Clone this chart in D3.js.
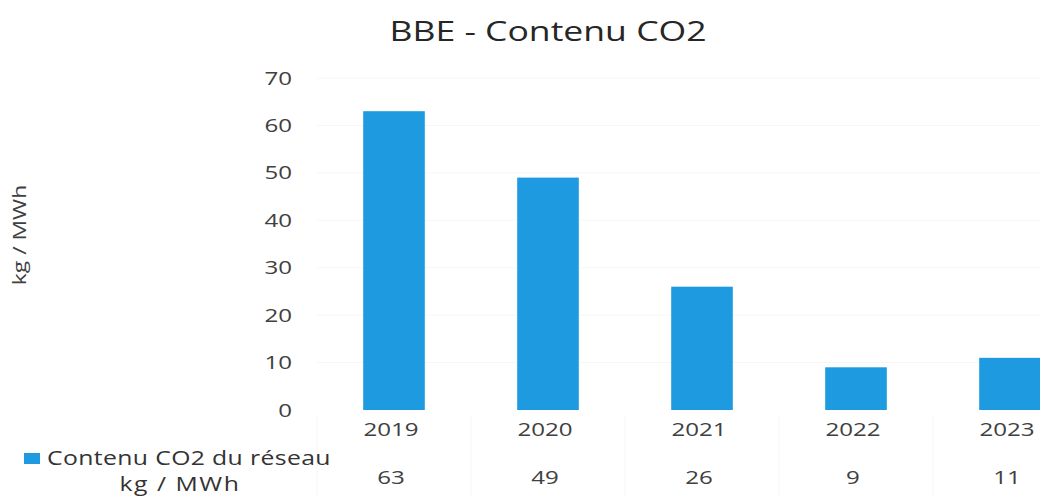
<!DOCTYPE html>
<html>
<head>
<meta charset="utf-8">
<script src="https://cdn.jsdelivr.net/npm/d3@7"></script>
<style>
  html, body { margin: 0; padding: 0; background: #ffffff; }
  svg { display: block; font-family: "Open Sans", "Liberation Sans", sans-serif; }
</style>
</head>
<body>
<svg id="chart" width="1040" height="497"></svg>
<script>
// Annual CO2 content of the network (kg / MWh)
const years = ["2019", "2020", "2021", "2022", "2023"];
const co2Values = [63, 49, 26, 9, 11];
const yTicks = [0, 10, 20, 30, 40, 50, 60, 70];
const chartTitle = "BBE - Contenu CO2";
const yAxisTitle = "kg / MWh";
const seriesName = ["Contenu CO2 du réseau", "kg / MWh"];

const svg = d3.select("#chart");
const W = 1040, H = 497;

// Plot area: the category band runs past the right edge of the page
const plot = { left: 317, right: 1087, top: 78, bottom: 410 };

const x = d3.scaleBand()
  .domain(years)
  .range([plot.left, plot.right])
  .paddingInner(0.6)
  .paddingOuter(0.3);

const y = d3.scaleLinear()
  .domain([0, 70])
  .range([plot.bottom, plot.top]);

const barColor = "#1e9be0";
const textColor = "#404040";
const stretch = 1.27;   // wide, loosely spaced lettering

// Text helper: places a horizontally stretched label at (px, py)
function label(parent, px, py, str, size, anchor, fill, rotate, spacing) {
  const g = parent.append("g")
    .attr("transform", `translate(${px},${py})` + (rotate ? ` rotate(${rotate})` : "") + ` scale(${stretch},1)`);
  g.append("text")
    .attr("text-anchor", anchor)
    .attr("font-size", size)
    .attr("letter-spacing", spacing || 0)
    .attr("fill", fill)
    .text(str);
  return g;
}

// Faint gridlines
svg.append("g")
  .selectAll("line")
  .data(yTicks.slice(1))
  .join("line")
  .attr("x1", plot.left)
  .attr("x2", plot.right)
  .attr("y1", d => y(d))
  .attr("y2", d => y(d))
  .attr("stroke", "#f6f6f6")
  .attr("stroke-width", 1);

// Title
label(svg, 548, 41, chartTitle, 28, "middle", "#262626");

// Y axis (labels only, no line)
const yAxis = d3.axisLeft(y).tickValues(yTicks).tickSize(0).tickPadding(0);
const yg = svg.append("g")
  .attr("transform", `translate(292,0)`)
  .call(yAxis);
yg.select(".domain").remove();
yg.selectAll("text")
  .attr("font-size", 19)
  .attr("fill", textColor)
  .attr("font-family", "Open Sans, sans-serif")
  .attr("text-anchor", "end")
  .attr("transform", `scale(${stretch},1)`);

// Y axis title
label(svg, 26, 235, yAxisTitle, 18, "middle", textColor, -90);

// Bars
svg.append("g")
  .selectAll("rect")
  .data(co2Values)
  .join("rect")
  .attr("x", (d, i) => x(years[i]))
  .attr("width", x.bandwidth())
  .attr("y", d => y(d))
  .attr("height", d => y(0) - y(d))
  .attr("fill", barColor);

// Data table: category labels and values below the plot
const step = x.step();
const table = svg.append("g");

table.selectAll("line.sep")
  .data(years)
  .join("line")
  .attr("class", "sep")
  .attr("x1", d => x(d) + x.bandwidth() / 2 - step / 2)
  .attr("x2", d => x(d) + x.bandwidth() / 2 - step / 2)
  .attr("y1", plot.bottom + 6)
  .attr("y2", H)
  .attr("stroke", "#f5f5f5");

years.forEach(yr => {
  label(table, x(yr) + x.bandwidth() / 2 - 3, 436, yr, 19, "middle", textColor);
});

co2Values.forEach((v, i) => {
  label(table, x(years[i]) + x.bandwidth() / 2 - 3, 484, String(v), 19, "middle", textColor);
});

// Series key in the table's header column
table.append("rect")
  .attr("x", 24)
  .attr("y", 453)
  .attr("width", 16)
  .attr("height", 11)
  .attr("fill", barColor);

label(table, 47, 465, seriesName[0], 19.5, "start", "#333333", 0, 0.3);
label(table, 180, 491, seriesName[1], 19.5, "middle", "#333333", 0, 1.2);
</script>
</body>
</html>
